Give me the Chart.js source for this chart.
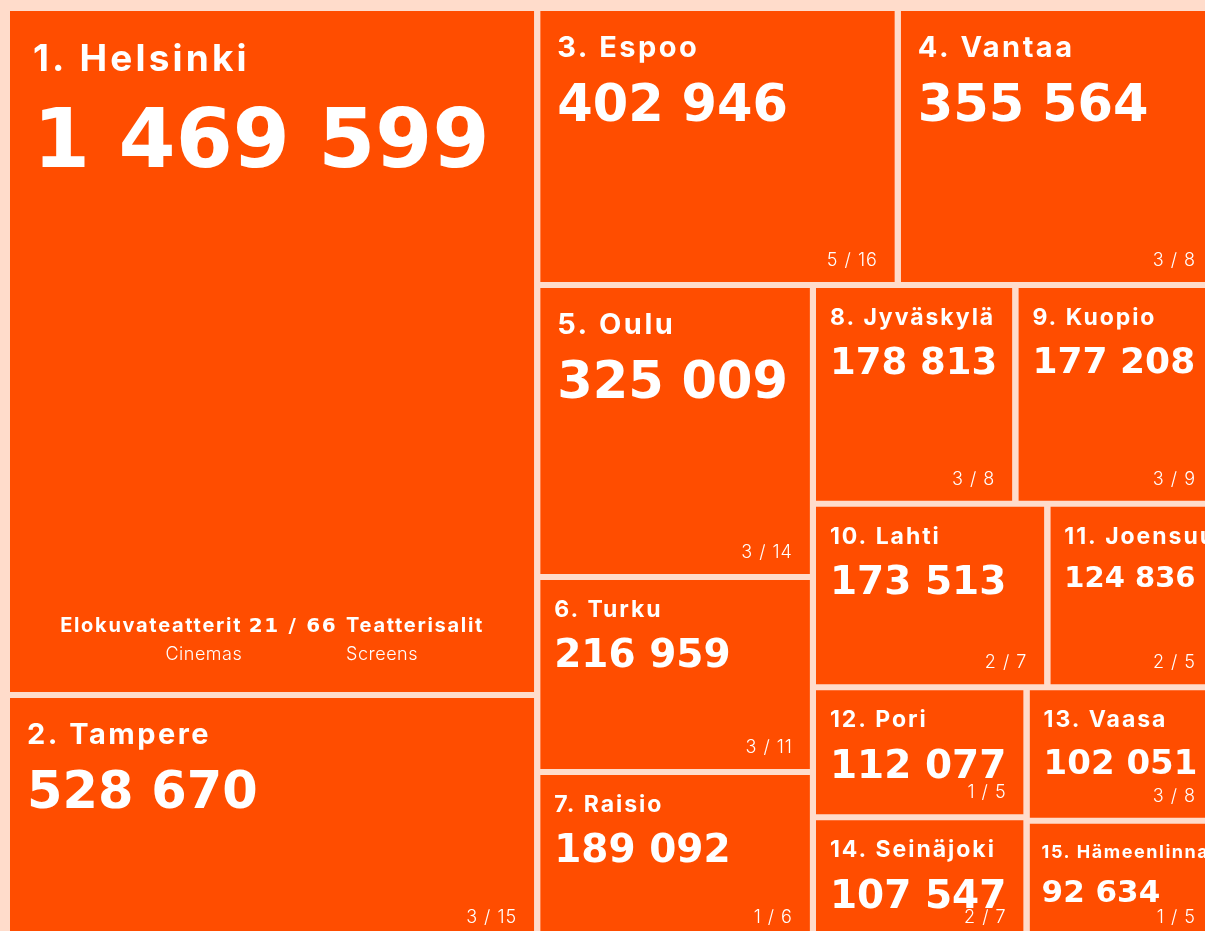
<!DOCTYPE html>
<html>
<head>
<meta charset="utf-8">
<script src="https://cdn.jsdelivr.net/npm/chart.js@4"></script>
<style>
  html, body { margin: 0; padding: 0; background: #FFDCCB; }
  #wrap { position: relative; width: 1205px; height: 931px; }
</style>
</head>
<body>
<div id="wrap"><canvas id="treeChart"></canvas></div>
<script>
// cinema visitors per city
var cities = ['Helsinki', 'Tampere', 'Espoo', 'Vantaa', 'Oulu', 'Turku', 'Raisio', 'Jyväskylä',
  'Kuopio', 'Lahti', 'Joensuu', 'Pori', 'Vaasa', 'Seinäjoki', 'Hämeenlinna']
var ranks = [1, 2, 3, 4, 5, 6, 7, 8, 9, 10, 11, 12, 13, 14, 15]
var visitors = [1469599, 528670, 402946, 355564, 325009, 216959, 189092, 178813,
  177208, 173513, 124836, 112077, 102051, 107547, 92634]
var cinemas = [21, 3, 5, 3, 3, 3, 1, 3, 3, 2, 2, 1, 3, 2, 1]
var screens = [66, 15, 16, 8, 14, 11, 6, 8, 9, 7, 5, 5, 8, 7, 5]
var legendWords = ['Elokuvateatterit', 'Teatterisalit', 'Cinemas', 'Screens']

var ORANGE = '#FF4D00'
var BOX = { x0: 7, y0: 8, x1: 1216, y1: 942 }
var GAP = 6

//- squarified layout (ratio 1), values sorted descending
function squarify(order, x0, y0, x1, y1) {
  var rects = {}
  var value = 0
  order.forEach(function (i) { value += visitors[i] })
  var i0 = 0, i1 = 0, n = order.length
  while (i0 < n) {
    var dx = x1 - x0, dy = y1 - y0
    var sumValue = visitors[order[i1++]]
    var minValue = sumValue, maxValue = sumValue
    var alpha = Math.max(dy / dx, dx / dy) / value
    var beta = sumValue * sumValue * alpha
    var minRatio = Math.max(maxValue / beta, beta / minValue)
    for (; i1 < n; ++i1) {
      var v = visitors[order[i1]]
      sumValue += v
      if (v < minValue) minValue = v
      if (v > maxValue) maxValue = v
      beta = sumValue * sumValue * alpha
      var newRatio = Math.max(maxValue / beta, beta / minValue)
      if (newRatio > minRatio) { sumValue -= v; break }
      minRatio = newRatio
    }
    var k
    if (dx < dy) {
      var h = dy * sumValue / value
      var x = x0
      for (k = i0; k < i1; k++) {
        var w = dx * visitors[order[k]] / sumValue
        rects[order[k]] = { x0: x, y0: y0, x1: x + w, y1: y0 + h }
        x += w
      }
      y0 += h
    } else {
      var ww = dx * sumValue / value
      var y = y0
      for (k = i0; k < i1; k++) {
        var hh = dy * visitors[order[k]] / sumValue
        rects[order[k]] = { x0: x0, y0: y, x1: x0 + ww, y1: y + hh }
        y += hh
      }
      x0 += ww
    }
    value -= sumValue
    i0 = i1
  }
  return rects
}

var order = visitors.map(function (v, i) { return i })
order.sort(function (a, b) { return visitors[b] - visitors[a] })
var rects = squarify(order, BOX.x0, BOX.y0, BOX.x1, BOX.y1)

// each cell is a line segment along its top edge filled down to its bottom value
var datasets = cities.map(function (c, i) {
  var r = rects[i]
  return {
    label: c,
    data: [{ x: r.x0 + GAP / 2, y: r.y0 + GAP / 2 }, { x: r.x1 - GAP / 2, y: r.y0 + GAP / 2 }],
    fill: { value: r.y1 - GAP / 2 },
    backgroundColor: ORANGE,
    borderColor: 'rgba(0,0,0,0)',
    borderWidth: 0,
    pointRadius: 0,
    pointHoverRadius: 0,
    tension: 0
  }
})

function fmt(v) {
  return String(v).replace(/\B(?=(\d{3})+(?!\d))/g, ' ')
}

function tier(v) {
  if (v >= 1000000) return { title: 37, num: 82, padX: 23, padTop: 33, gap: 36 }
  if (v >= 300000) return { title: 29, num: 51, padX: 17, padTop: 25, gap: 27 }
  if (v >= 100000) return { title: 23, num: 39, padX: 14, padTop: 20, gap: 22 }
  return { title: 18, num: 31, padX: 12, padTop: 21, gap: 21 }
}

var TITLE_FONT = 'Inter, "DejaVu Sans", sans-serif'
var NUM_FONT = '"DejaVu Sans", sans-serif'
var LIGHT_FONT = 'Inter, "DejaVu Sans", sans-serif'

function spacing(ctx, px) {
  if ('letterSpacing' in ctx) ctx.letterSpacing = px + 'px'
}

var labelPlugin = {
  id: 'cellLabels',
  afterDatasetsDraw: function (chart) {
    var ctx = chart.ctx
    var sx = chart.scales.x, sy = chart.scales.y
    ctx.save()
    ctx.fillStyle = '#ffffff'
    ctx.textBaseline = 'alphabetic'
    cities.forEach(function (c, i) {
      var ds = chart.data.datasets[i]
      var left = sx.getPixelForValue(ds.data[0].x)
      var right = sx.getPixelForValue(ds.data[1].x)
      var top = sy.getPixelForValue(ds.data[0].y)
      var bottom = sy.getPixelForValue(ds.fill.value)
      var t = tier(visitors[i])

      // title
      ctx.textAlign = 'left'
      ctx.font = '700 ' + t.title + 'px ' + TITLE_FONT
      spacing(ctx, (t.title * 0.085).toFixed(2))
      var titleBase = top + t.padTop + t.title * 0.73
      ctx.fillText(ranks[i] + '. ' + c, left + t.padX, titleBase)
      spacing(ctx, 0)

      // big number, shrunk if it does not fit the cell
      var numSize = t.num
      var txt = fmt(visitors[i])
      ctx.font = 'bold ' + numSize + 'px ' + NUM_FONT
      var maxW = (right - left) - 2 * t.padX
      var tw = ctx.measureText(txt).width
      if (tw > maxW) {
        numSize = Math.floor(numSize * maxW / tw)
        ctx.font = 'bold ' + numSize + 'px ' + NUM_FONT
      }
      var numBase = titleBase + t.gap + numSize * 0.73
      ctx.fillText(txt, left + t.padX, numBase)

      if (i === 0) {
        // legend line in the largest cell
        var cx = (left + right) / 2
        var base = bottom - 60
        spacing(ctx, 1.7)
        var parts = [
          { s: legendWords[0] + ' ', f: '700 20px ' + TITLE_FONT },
          { s: cinemas[i] + ' / ' + screens[i] + ' ', f: 'bold 20px ' + NUM_FONT },
          { s: legendWords[1], f: '700 20px ' + TITLE_FONT }
        ]
        var total = 0
        parts.forEach(function (p) { ctx.font = p.f; p.w = ctx.measureText(p.s).width; total += p.w })
        var x = cx - total / 2
        ctx.font = parts[0].f
        var wordEnd = x + ctx.measureText(legendWords[0]).width
        var secondStart = x + parts[0].w + parts[1].w
        parts.forEach(function (p) { ctx.font = p.f; ctx.fillText(p.s, x, base); x += p.w })
        spacing(ctx, 0.5)
        ctx.font = '300 18px ' + LIGHT_FONT
        ctx.textAlign = 'right'
        ctx.fillText(legendWords[2], wordEnd, base + 28)
        ctx.textAlign = 'left'
        ctx.fillText(legendWords[3], secondStart, base + 28)
        spacing(ctx, 0)
      } else {
        ctx.font = '300 18px ' + LIGHT_FONT
        ctx.textAlign = 'right'
        spacing(ctx, 1)
        ctx.fillText(cinemas[i] + ' / ' + screens[i], right - 17, bottom - 16)
        spacing(ctx, 0)
      }
    })
    ctx.restore()
  }
}

var treeChart = new Chart(document.getElementById('treeChart').getContext('2d'), {
  type: 'line',
  data: { datasets: datasets },
  options: {
    responsive: true,
    maintainAspectRatio: false,
    animation: false,
    events: [],
    layout: { padding: 0 },
    plugins: {
      legend: { display: false },
      tooltip: { enabled: false },
      filler: { propagate: false }
    },
    scales: {
      x: { type: 'linear', min: 0, max: 1205, display: false },
      y: { type: 'linear', min: 0, max: 931, reverse: true, display: false }
    }
  },
  plugins: [labelPlugin]
})
</script>
</body>
</html>
